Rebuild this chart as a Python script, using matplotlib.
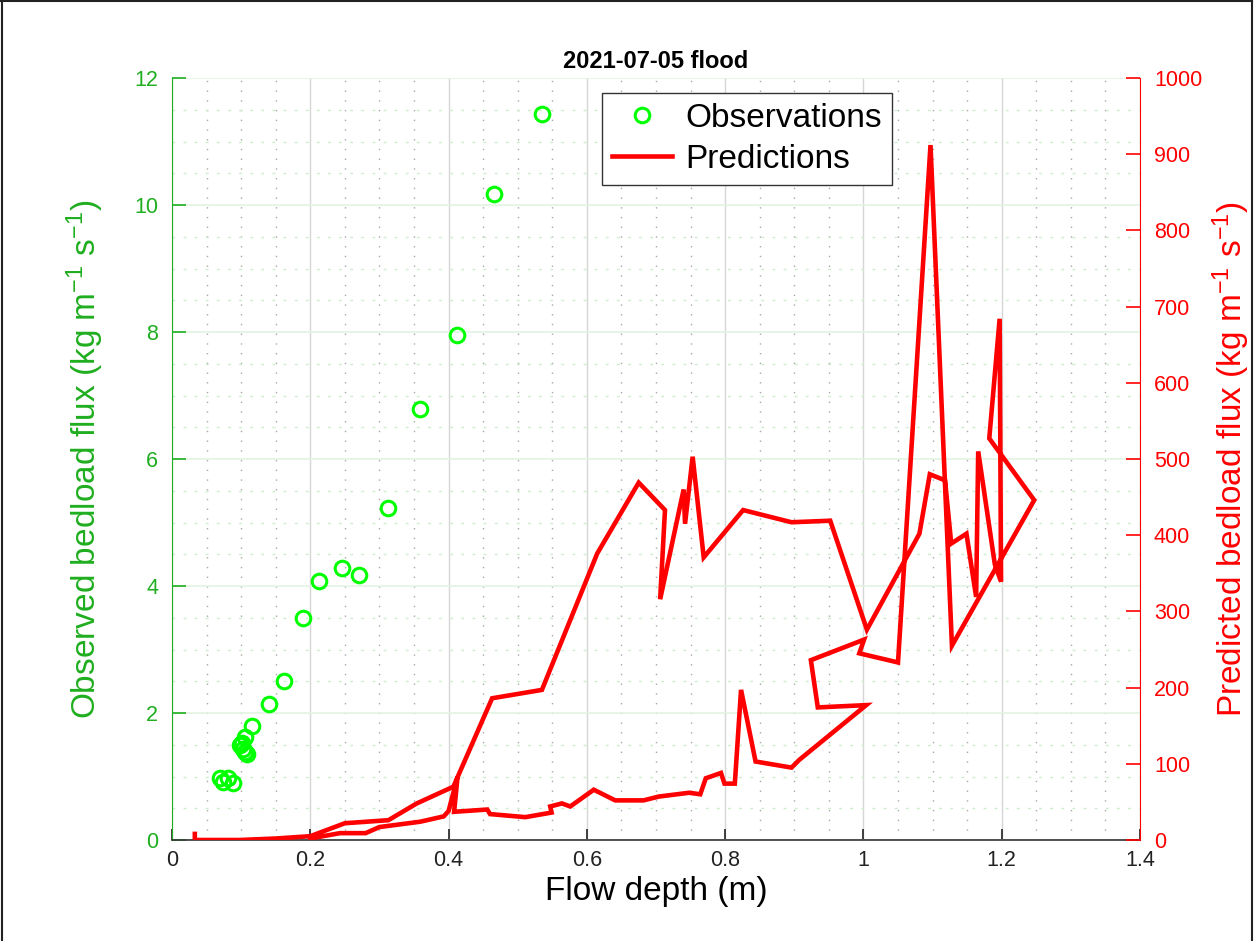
import matplotlib
matplotlib.use("Agg")
import matplotlib.pyplot as plt
from matplotlib.lines import Line2D
from matplotlib.ticker import MultipleLocator

plt.rcParams['font.family'] = ['Liberation Sans', 'DejaVu Sans']
plt.rcParams['mathtext.fontset'] = 'custom'
plt.rcParams['mathtext.rm'] = 'Liberation Sans'
plt.rcParams['mathtext.it'] = 'Liberation Sans:italic'

# Observations (flow depth m, observed bedload flux kg m-1 s-1)
obs_depth = [0.535, 0.465, 0.412, 0.358, 0.312, 0.246, 0.270, 0.212, 0.190,
             0.162, 0.140, 0.116, 0.105, 0.098, 0.101, 0.103, 0.106, 0.108,
             0.069, 0.074, 0.081, 0.088]
obs_flux = [11.44, 10.17, 7.96, 6.78, 5.23, 4.29, 4.17, 4.08, 3.49,
            2.51, 2.14, 1.80, 1.62, 1.50, 1.52, 1.44, 1.38, 1.35,
            0.98, 0.92, 0.97, 0.90]

# Predictions (flow depth m, predicted bedload flux kg m-1 s-1), in time order
pred_depth = [0.033, 0.033, 0.098, 0.151, 0.200, 0.250, 0.313, 0.354, 0.407,
              0.463, 0.535, 0.615, 0.675, 0.713, 0.706, 0.740, 0.742, 0.753,
              0.769, 0.826, 0.896, 0.952, 1.005, 1.081, 1.096, 1.118, 1.127,
              1.149, 1.163, 1.166, 1.190, 1.199, 1.197, 1.182, 1.247, 1.128,
              1.097, 1.050, 0.994, 1.001, 0.924, 0.934, 1.004, 0.907, 0.896,
              0.844, 0.823, 0.814, 0.799, 0.794, 0.772, 0.764, 0.748, 0.704,
              0.682, 0.641, 0.610, 0.576, 0.564, 0.547, 0.549, 0.511, 0.460,
              0.456, 0.408, 0.413, 0.400, 0.393, 0.359, 0.300, 0.280, 0.243,
              0.200]
pred_flux = [8, 0, 0, 2, 5, 22, 26, 48, 70,
             186, 197, 376, 469, 433, 316, 460, 415, 503,
             371, 433, 417, 419, 276, 402, 480, 472, 389,
             402, 319, 510, 362, 339, 684, 527, 446, 255,
             912, 233, 245, 263, 236, 174, 177, 105, 95,
             103, 197, 74, 74, 88, 81, 60, 62, 57,
             52, 52, 66, 44, 48, 44, 36, 30, 34,
             40, 37, 83, 38, 31, 24, 17, 9, 9,
             2]

title = '2021-07-05 flood'
xlabel = 'Flow depth (m)'
ylabel_left = r'Observed bedload flux (kg m$^{-1}$ s$^{-1}$)'
ylabel_right = r'Predicted bedload flux (kg m$^{-1}$ s$^{-1}$)'

GREEN_AX = '#1fae1f'
GREEN_PT = '#00ff00'
RED = '#ff0000'

fig = plt.figure(figsize=(12.58, 9.41), dpi=100)
ax = fig.add_axes([172/1258, 101/941, (1140-172)/1258, (840-78)/941])
ax2 = ax.twinx()

# grids
ax.set_axisbelow(True)
ax.xaxis.set_major_locator(MultipleLocator(0.2))
ax.xaxis.set_minor_locator(MultipleLocator(0.05))
ax.yaxis.set_major_locator(MultipleLocator(2))
ax.yaxis.set_minor_locator(MultipleLocator(0.5))
ax.grid(True, which='major', axis='x', color='#d6d6d6', lw=1.0, ls='-')
ax.grid(True, which='minor', axis='x', color='#a8a8a8', lw=1.0, ls=(0, (1, 6)))
ax.grid(True, which='major', axis='y', color='#e2f4e2', lw=1.2, ls='-')
ax.grid(True, which='minor', axis='y', color='#cdeccd', lw=1.0, ls=(0, (2, 6)))

obs_h, = ax.plot(obs_depth, obs_flux, 'o', mfc='none', mec=GREEN_PT, ms=10.5, mew=2.2,
                 label='Observations', zorder=3)
pred_h, = ax2.plot(pred_depth, pred_flux, '-', color=RED, lw=3.3, label='Predictions',
                   solid_joinstyle='miter')

ax.set_xlim(0, 1.4)
ax.set_ylim(0, 12)
ax2.set_ylim(0, 1000)
ax2.yaxis.set_major_locator(MultipleLocator(100))

ax.set_xticks([0, 0.2, 0.4, 0.6, 0.8, 1.0, 1.2, 1.4])
ax.set_xticklabels(['0', '0.2', '0.4', '0.6', '0.8', '1', '1.2', '1.4'])

ax.tick_params(axis='x', which='major', direction='in', length=8, width=1.2, colors='#222222',
               labelsize=15.5, pad=7)
ax.tick_params(axis='x', which='minor', length=0)
ax.tick_params(axis='y', which='major', direction='in', length=10, width=1.2, colors=GREEN_AX,
               labelsize=15.5, pad=10)
ax.tick_params(axis='y', which='minor', length=0)
ax2.tick_params(axis='y', which='major', direction='in', length=10, width=1.2, colors=RED,
                labelsize=15.5, pad=10)

for s in ['top']:
    ax.spines[s].set_visible(False)
    ax2.spines[s].set_visible(False)
ax.spines['left'].set_color(GREEN_AX)
ax.spines['bottom'].set_color('#333333')
ax.spines['bottom'].set_linewidth(1.2)
ax.spines['right'].set_visible(False)
ax2.spines['left'].set_visible(False)
ax2.spines['bottom'].set_visible(False)
ax2.spines['right'].set_color(RED)

ax.set_title(title, fontsize=17, fontweight='bold', pad=7)
ax.set_xlabel(xlabel, fontsize=24, labelpad=4)
ax.set_ylabel(ylabel_left, fontsize=24, color=GREEN_AX, labelpad=20)
ax2.set_ylabel(ylabel_right, fontsize=24, color=RED, labelpad=6)

leg = ax2.legend(handles=[obs_h, pred_h], loc='upper left',
                 bbox_to_anchor=((602-172)/968, (840-93)/762), fontsize=24,
                 frameon=True, fancybox=False, edgecolor='#333333', framealpha=1,
                 handlelength=1.8, handletextpad=0.4, borderpad=0.3, labelspacing=0.3,
                 borderaxespad=0)
leg.get_frame().set_linewidth(1.0)

# figure border
fig.add_artist(Line2D([0.0012, 0.0012], [0, 1], color='#222222', lw=1.5, transform=fig.transFigure))
fig.add_artist(Line2D([0, 0.9955], [0.9985, 0.9985], color='#222222', lw=1.5, transform=fig.transFigure))
fig.add_artist(Line2D([0.9955, 0.9955], [0, 1], color='#222222', lw=1.5, transform=fig.transFigure))

fig.savefig('out.png', dpi=100)
